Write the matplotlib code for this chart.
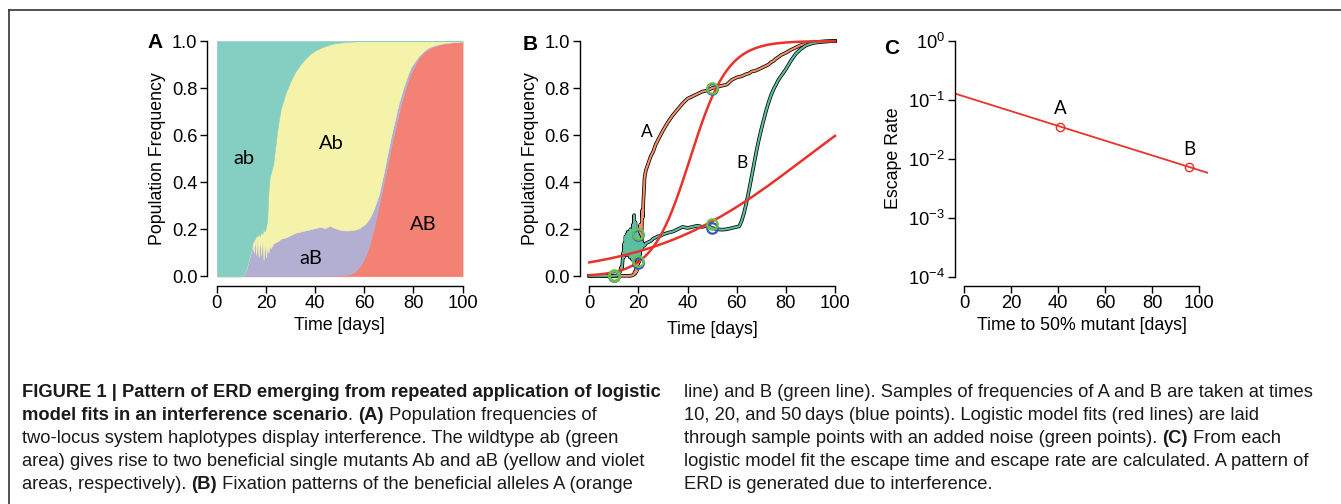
import numpy as np
import matplotlib
matplotlib.use("Agg")
import matplotlib.pyplot as plt
import matplotlib.patheffects as pe
from matplotlib.lines import Line2D
from matplotlib.ticker import LogLocator, NullLocator

# ---- Panel A: haplotype frequencies (upper edge of each stacked layer) ----
t_a = [0, 10, 11, 12, 13, 14,
       14.5, 15, 15.5, 16, 16.5, 17, 17.5, 18, 18.5, 19, 19.5, 20, 20.5, 21, 21.5, 22,
       23, 24, 25, 26,
       28, 30, 32, 34, 36, 38, 40, 42, 44, 46, 48, 50, 52, 54, 56, 58, 60,
       61, 62, 63, 64, 65, 66, 67, 68, 69, 70, 71, 72, 73, 74, 75, 76, 77, 78, 79, 80,
       82, 84, 86, 88, 90, 93, 96, 100]
# top of AB (red)
top_AB = [0, 0, 0, 0, 0, 0,
          0, 0, 0, 0, 0, 0, 0, 0, 0, 0, 0, 0, 0, 0, 0, 0,
          0, 0, 0, 0,
          0, 0, 0, 0, 0, 0, 0, 0, 0.001, 0.002, 0.003, 0.004, 0.006, 0.009, 0.018, 0.04, 0.075,
          0.10, 0.13, 0.17, 0.21, 0.255, 0.305, 0.355, 0.405, 0.455, 0.505, 0.555, 0.60, 0.645,
          0.69, 0.735, 0.77, 0.805, 0.84, 0.865, 0.885,
          0.925, 0.95, 0.965, 0.976, 0.983, 0.99, 0.994, 0.997]
# top of aB (violet)
top_aB = [0, 0, 0.005, 0.03, 0.07, 0.11,
          0.14, 0.10, 0.16, 0.09, 0.17, 0.08, 0.16, 0.09, 0.17, 0.07, 0.15, 0.08, 0.13, 0.10, 0.13, 0.12,
          0.14, 0.145, 0.15, 0.16,
          0.165, 0.175, 0.185, 0.19, 0.195, 0.20, 0.205, 0.21, 0.205, 0.215, 0.205, 0.198, 0.195,
          0.195, 0.198, 0.205, 0.22,
          0.23, 0.245, 0.265, 0.29, 0.32, 0.35, 0.40, 0.445, 0.50, 0.55, 0.60, 0.645, 0.69,
          0.735, 0.77, 0.805, 0.835, 0.865, 0.89, 0.905,
          0.935, 0.955, 0.972, 0.98, 0.986, 0.992, 0.995, 0.998]
# top of Ab (yellow); the rest up to 1 is ab (green)
top_Ab = [0, 0, 0.005, 0.03, 0.07, 0.11,
          0.14, 0.15, 0.16, 0.17, 0.17, 0.18, 0.17, 0.19, 0.18, 0.20, 0.19, 0.21, 0.24, 0.36, 0.42, 0.44,
          0.48, 0.57, 0.65, 0.71,
          0.78, 0.83, 0.87, 0.90, 0.925, 0.945, 0.96, 0.97, 0.978, 0.985, 0.99, 0.993, 0.995,
          0.997, 0.998, 1.0, 1.0,
          1, 1, 1, 1, 1, 1, 1, 1, 1, 1, 1, 1, 1, 1, 1, 1, 1, 1, 1, 1,
          1, 1, 1, 1, 1, 1, 1, 1]

# ---- Panel B: allele frequencies A and B ----
t_b = ([0, 5, 10, 11, 12, 12.5, 13,
        13.25, 13.5, 13.75, 14, 14.25, 14.5, 14.75, 15, 15.25, 15.5, 15.75, 16, 16.25,
        16.5, 16.75, 17, 17.25, 17.5, 17.75, 18, 18.25, 18.5, 18.75, 19, 19.25, 19.5, 19.75,
        20, 20.25, 20.5, 20.75, 21, 21.25, 21.5, 21.75, 22,
        22.5, 23, 24, 25, 26, 27, 28, 29, 30,
        32, 34, 36, 38, 40, 42, 44, 46, 48, 50, 52, 54, 56, 58, 60,
        61, 62, 63, 64, 65, 66, 67, 68, 69, 70, 71, 72, 73, 74, 75, 76, 77, 78, 79, 80,
        82, 84, 86, 88, 90, 92, 95, 100])
freq_A = ([0.002] * 7 + [0.002] * 13 +
          [0.003, 0.002, 0.003, 0.003, 0.004, 0.005, 0.006, 0.01, 0.02, 0.012, 0.03, 0.02, 0.08, 0.05,
           0.19, 0.06, 0.10, 0.22, 0.20, 0.15, 0.28, 0.25, 0.32] +
          [0.42, 0.45, 0.48, 0.51, 0.53, 0.56, 0.58, 0.60, 0.62,
           0.655, 0.685, 0.71, 0.735, 0.755, 0.765, 0.775, 0.785, 0.79, 0.80, 0.805, 0.81, 0.815, 0.835, 0.845,
           0.848, 0.85, 0.855, 0.86, 0.862, 0.87, 0.872, 0.875, 0.88, 0.885, 0.89, 0.895, 0.90, 0.91,
           0.915, 0.925, 0.932, 0.94, 0.945, 0.95,
           0.962, 0.972, 0.982, 0.988, 0.993, 0.996, 0.998, 1.0])
freq_B = ([0.002, 0.002, 0.002, 0.003, 0.008, 0.02, 0.04] +
          [0.03, 0.06, 0.10, 0.08, 0.14, 0.09, 0.17, 0.10, 0.18, 0.09, 0.19, 0.11, 0.18,
           0.08, 0.20, 0.09, 0.19, 0.07, 0.22, 0.10, 0.26, 0.08, 0.23, 0.09, 0.19, 0.07, 0.18,
           0.10, 0.17, 0.09, 0.16, 0.11, 0.15, 0.12, 0.14, 0.13] +
          [0.13, 0.14, 0.145, 0.15, 0.16, 0.165, 0.17, 0.172, 0.178,
           0.185, 0.19, 0.20, 0.21, 0.205, 0.21, 0.215, 0.21, 0.215, 0.205, 0.20, 0.198, 0.20, 0.205, 0.21,
           0.212, 0.235, 0.27, 0.315, 0.365, 0.42, 0.475, 0.53, 0.58, 0.625, 0.665, 0.705, 0.74, 0.77,
           0.795, 0.815, 0.835, 0.85, 0.865, 0.88,
           0.915, 0.945, 0.965, 0.98, 0.988, 0.993, 0.997, 1.0])

# samples at 10, 20, 50 days (true = blue, noisy = green)
sample_t = [10, 20, 50]
sample_A = [0.0, 0.055, 0.795]
noisy_A = [0.003, 0.065, 0.80]
sample_B = [0.0, 0.175, 0.205]
noisy_B = [0.005, 0.18, 0.222]

# logistic fits (midpoint, rate) for A and B
fit_mid = [41.0, 87.6]
fit_rate = [0.13, 0.0316]

# ---- Panel C: escape time vs escape rate ----
escape_time = [40.9, 95.9]
escape_rate = [0.0353, 0.00724]
escape_labels = ["A", "B"]

# colours
c_ab, c_Ab, c_aB, c_AB = "#84cfc1", "#f5f2aa", "#b2afd2", "#f38274"
c_orange, c_teal = "#f5906a", "#5dbf9f"
c_red = "#e8332b"

plt.rcParams["font.family"] = ["Liberation Sans", "DejaVu Sans"]
plt.rcParams["mathtext.fontset"] = "custom"
plt.rcParams["mathtext.rm"] = "Liberation Sans"
plt.rcParams["mathtext.it"] = "Liberation Sans:italic"

W, H = 1341, 504
fig = plt.figure(figsize=(W / 100, H / 100), dpi=100)
TICK, LAB = 13.2, 12.8


def px_axes(x0, x1, y_top, y_bot):
    return fig.add_axes([x0 / W, 1 - y_bot / H, (x1 - x0) / W, (y_bot - y_top) / H])


def r_style(ax):
    ax.spines["top"].set_visible(False)
    ax.spines["right"].set_visible(False)
    for s in ["left", "bottom"]:
        ax.spines[s].set_linewidth(1.0)
    ax.tick_params(direction="out", length=5, width=1, labelsize=TICK, pad=2)


def fig_text(x, y, s, **kw):
    fig.text(x / W, 1 - y / H, s, **kw)


# ---------- Panel A ----------
axA = px_axes(207, 472.4, 31.6, 285.7)
ta = np.array(t_a)
rAB, raB, rAb = np.array(top_AB), np.array(top_aB), np.array(top_Ab)
axA.fill_between(ta, 0, rAB, color=c_AB, lw=0.4)
axA.fill_between(ta, rAB, raB, color=c_aB, lw=0.4)
axA.fill_between(ta, raB, rAb, color=c_Ab, lw=0.4)
axA.fill_between(ta, rAb, 1, color=c_ab, lw=0.4)
axA.set_xlim(-4, 104)
axA.set_ylim(-0.04, 1.04)
r_style(axA)
axA.spines["left"].set_bounds(0, 1)
axA.spines["bottom"].set_bounds(0, 100)
axA.set_xticks([0, 20, 40, 60, 80, 100])
axA.set_yticks([0, 0.2, 0.4, 0.6, 0.8, 1.0])
axA.set_yticklabels(["0.0", "0.2", "0.4", "0.6", "0.8", "1.0"])
axA.set_xlabel("Time [days]", fontsize=LAB, labelpad=3)
axA.set_ylabel("Population Frequency", fontsize=LAB, labelpad=4)
for s, x, y in [("ab", 11, 0.5), ("Ab", 46.6, 0.565), ("aB", 38.4, 0.075), ("AB", 84, 0.22)]:
    axA.text(x, y, s, fontsize=14.5, family="Lato", ha="center", va="center")

# ---------- Panel B ----------
axB = px_axes(579.5, 844.8, 31.6, 285.7)
tb = np.array(t_b)
outline = [pe.Stroke(linewidth=2.6, foreground="black"), pe.Normal()]
axB.plot(tb, freq_A, color=c_orange, lw=1.5, path_effects=outline, zorder=2)
axB.plot(tb, freq_B, color=c_teal, lw=1.5, path_effects=outline, zorder=2)
tt = np.linspace(0, 100, 300)
for m, r in zip(fit_mid, fit_rate):
    axB.plot(tt, 1 / (1 + np.exp(-r * (tt - m))), color=c_red, lw=1.8, zorder=3)
ms, mew = 7.5, 1.6
axB.plot(sample_t, sample_A, "o", mfc="none", mec="#2f5cc4", ms=ms, mew=mew, zorder=4)
axB.plot(sample_t, sample_B, "o", mfc="none", mec="#2f5cc4", ms=ms, mew=mew, zorder=4)
axB.plot(sample_t, noisy_A, "o", mfc="none", mec="#6cbf45", ms=ms, mew=mew, zorder=5)
axB.plot(sample_t, noisy_B, "o", mfc="none", mec="#6cbf45", ms=ms, mew=mew, zorder=5)
axB.set_xlim(-4, 104)
axB.set_ylim(-0.04, 1.04)
r_style(axB)
axB.spines["left"].set_bounds(0, 1)
axB.spines["bottom"].set_bounds(0, 100)
axB.set_xticks([0, 20, 40, 60, 80, 100])
axB.set_yticks([0, 0.2, 0.4, 0.6, 0.8, 1.0])
axB.set_yticklabels(["0.0", "0.2", "0.4", "0.6", "0.8", "1.0"])
axB.set_xlabel("Time [days]", fontsize=LAB, labelpad=6)
axB.set_ylabel("Population Frequency", fontsize=LAB, labelpad=4)
axB.text(23.3, 0.615, "A", fontsize=12.5, family="Lato", ha="center", va="center")
axB.text(62.3, 0.48, "B", fontsize=12.5, family="Lato", ha="center", va="center")

# ---------- Panel C ----------
axC = px_axes(954.6, 1208.4, 31.6, 285.7)
et, er = np.array(escape_time), np.array(escape_rate)
slope, icpt = np.polyfit(et, np.log10(er), 1)
xl = np.array([-4, 104])
axC.plot(xl, 10 ** (icpt + slope * xl), color=c_red, lw=1.3)
axC.plot(et, er, "o", mfc="none", mec=c_red, ms=6, mew=1.0)
for x, y, s in zip(et, er, escape_labels):
    axC.text(x, y * 1.45, s, fontsize=13.5, family="Lato", ha="center", va="bottom")
axC.set_yscale("log")
axC.set_xlim(-4, 104)
axC.set_ylim(10 ** -4.155, 10 ** 0.16)
r_style(axC)
axC.spines["left"].set_bounds(1e-4, 1)
axC.spines["bottom"].set_bounds(0, 100)
axC.set_xticks([0, 20, 40, 60, 80, 100])
axC.yaxis.set_major_locator(LogLocator(base=10, numticks=10))
axC.yaxis.set_minor_locator(NullLocator())
axC.set_xlabel("Time to 50% mutant [days]", fontsize=LAB, labelpad=3)
axC.set_ylabel("Escape Rate", fontsize=LAB, labelpad=4)

# panel letters
fig_text(155, 42, "A", fontsize=15, weight="bold", ha="center", va="center")
fig_text(530, 45, "B", fontsize=15, weight="bold", ha="center", va="center")
fig_text(892, 48, "C", fontsize=15, weight="bold", ha="center", va="center")

# frame lines of the figure box
fig.add_artist(Line2D([8.5 / W, 8.5 / W], [0, 1 - 10 / H], color="#333333", lw=1.2))
fig.add_artist(Line2D([8.5 / W, 1], [1 - 10 / H, 1 - 10 / H], color="#333333", lw=1.2))

# ---------- caption ----------
caption_left = [
    [("FIGURE 1 | Pattern of ERD emerging from repeated application of logistic", True)],
    [("model fits in an interference scenario", True), (". ", False), ("(A)", True),
     (" Population frequencies of", False)],
    [("two-locus system haplotypes display interference. The wildtype ab (green", False)],
    [("area) gives rise to two beneficial single mutants Ab and aB (yellow and violet", False)],
    [("areas, respectively). ", False), ("(B)", True), (" Fixation patterns of the beneficial alleles A (orange", False)],
]
caption_right = [
    [("line) and B (green line). Samples of frequencies of A and B are taken at times", False)],
    [("10, 20, and 50\u2009days (blue points). Logistic model fits (red lines) are laid", False)],
    [("through sample points with an added noise (green points). ", False), ("(C)", True),
     (" From each", False)],
    [("logistic model fit the escape time and escape rate are calculated. A pattern of", False)],
    [("ERD is generated due to interference.", False)],
]
cap_font = "Liberation Sans"
cap_size = 13.2
renderer = fig.canvas.get_renderer()


def text_width(s, bold):
    kw = dict(fontsize=cap_size, family=cap_font, weight="bold" if bold else "normal")
    a = fig.text(0, 0, "x" + s + "x", **kw)
    b = fig.text(0, 0, "xx", **kw)
    w = a.get_window_extent(renderer).width - b.get_window_extent(renderer).width
    a.remove()
    b.remove()
    return w


line_y = [397, 420, 443, 466, 489]
for col_x, lines in [(22, caption_left), (684, caption_right)]:
    for y, runs in zip(line_y, lines):
        x = col_x
        for s, bold in runs:
            fig_text(x, y, s, fontsize=cap_size, family=cap_font,
                     weight="bold" if bold else "normal", va="baseline", color="#1a1a1a")
            x += text_width(s, bold)

fig.savefig("out.png", dpi=100)
